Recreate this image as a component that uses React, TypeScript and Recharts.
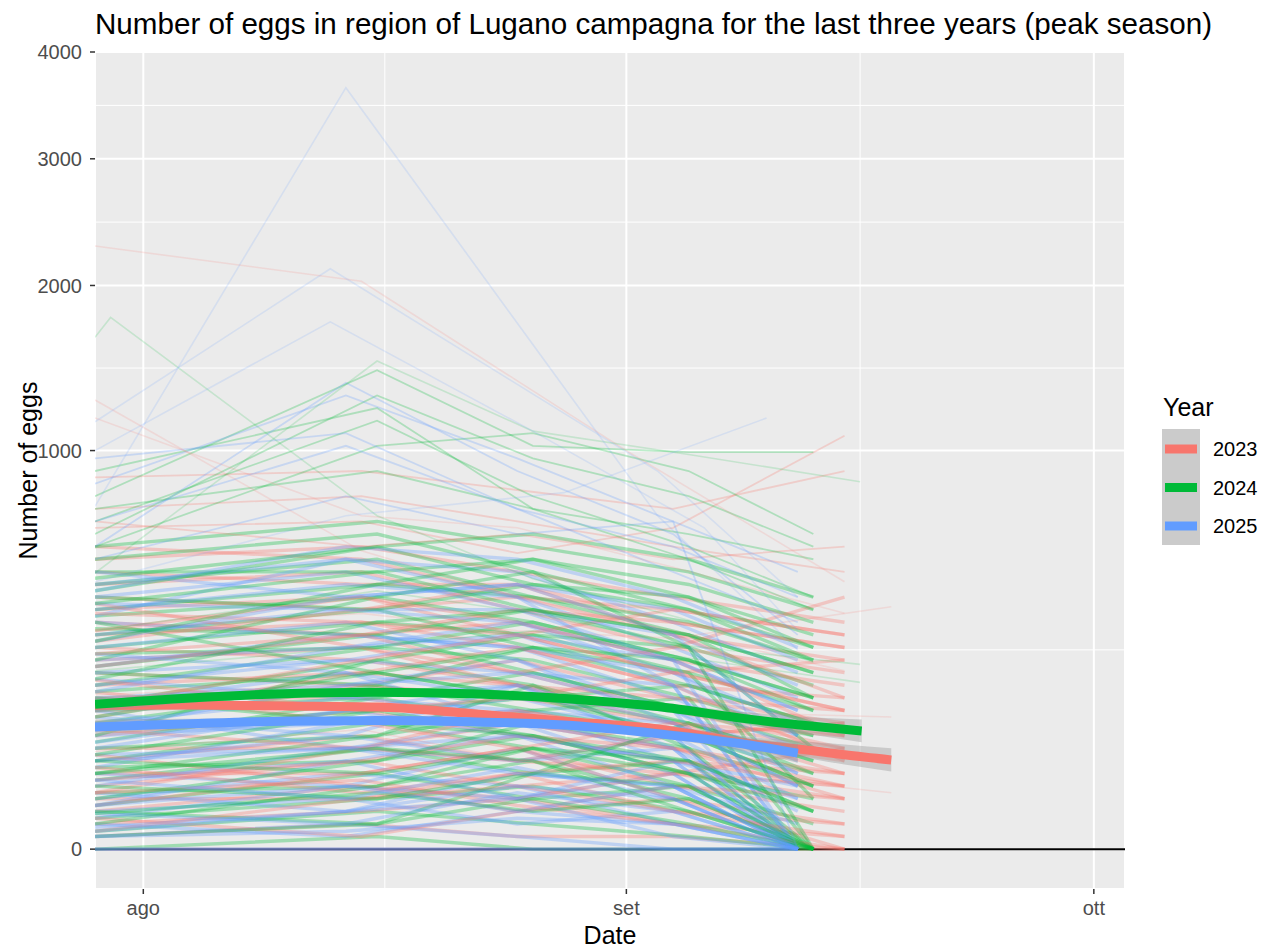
import { Area, CartesianGrid, ComposedChart, Line, XAxis, YAxis } from "recharts";

const FONT = '"Liberation Sans", Arial, sans-serif';

const years = ["2023", "2024", "2025"];
const yearColors = ["#F8766D", "#00BA38", "#619CFF"];

// x in days from 1 Aug
const xDomain = [-3.1, 63];
const xTicks = [0, 31, 61];
const xTickLabels = ["ago", "set", "ott"];
const xMinor = [15.5, 46];
const yDomain = [-10, 4000];
const yTicks = [0, 1000, 2000, 3000, 4000];
const yMinor = [250, 1457, 2475, 3482];
const zeroDays = [-3.1, 63];

// trap counts, one row per trap
const days2023 = [-3.1, 14, 24, 34, 45];
const traps2023 = [
  [0, 0, 0, 0, 0], [1, 4, 1, 1, 0], [4, 9, 16, 4, 1], [9, 25, 9, 16, 4],
  [16, 16, 36, 9, 4], [25, 49, 25, 36, 16], [36, 36, 64, 25, 9], [49, 81, 49, 36, 25],
  [64, 64, 100, 64, 16], [81, 121, 81, 49, 36], [100, 100, 121, 81, 49], [121, 169, 144, 100, 64],
  [144, 144, 100, 64, 25], [169, 196, 169, 121, 81], [196, 169, 225, 144, 100], [225, 256, 196, 121, 64],
  [256, 225, 169, 144, 121], [289, 324, 256, 169, 144], [324, 289, 324, 225, 169], [361, 400, 289, 196, 121],
  [400, 361, 400, 289, 225], [441, 484, 361, 256, 196], [484, 441, 441, 324, 256], [529, 576, 484, 400, 324],
  [576, 529, 400, 361, 289], [56, 25, 16, 36, 64], [156, 100, 64, 16, 0], [272, 361, 441, 289, 144],
  [110, 196, 256, 169, 49], [380, 256, 169, 100, 36], [20, 64, 121, 81, 100], [210, 289, 196, 256, 400],
  [30, 49, 81, 64, 36], [90, 64, 49, 81, 100], [180, 121, 144, 196, 225], [240, 289, 361, 324, 256],
  [300, 400, 324, 225, 81], [350, 324, 289, 361, 289], [12, 36, 64, 100, 81], [130, 225, 289, 196, 121],
  [2, 16, 25, 9, 1], [6, 1, 9, 25, 16], [20, 30, 12, 4, 0], [42, 20, 36, 49, 25],
];
const highTraps2023 = [
  [729, 784, 676, 576, 484], [870, 900, 812, 729, 900], [650, 676, 552, 650, 1076], [676, 576, 625, 529, 576],
];
const outliers2023 = [
  [[-3.1, 2290], [14, 2030], [31, 1000], [45, 450]],
  [[-3.1, 1270], [14, 560], [24, 400], [34, 300], [45, 200]],
  [[-3.1, 1170], [14, 700], [24, 650], [34, 500], [45, 350]],
  [[-3.1, 300], [14, 350], [24, 300], [34, 280], [48, 370]],
  [[-3.1, 150], [14, 170], [24, 140], [34, 120], [48, 110]],
  [[-3.1, 60], [14, 90], [24, 50], [34, 40], [48, 20]],
];

const days2024 = [-3.1, 15, 25, 35, 43];
const traps2024 = [
  [0, 1, 0, 0, 0], [2, 9, 4, 1, 0], [6, 16, 25, 9, 0], [12, 36, 16, 25, 4],
  [20, 25, 49, 16, 0], [30, 64, 36, 49, 9], [42, 49, 81, 36, 16], [49, 100, 64, 25, 0],
  [64, 81, 121, 81, 36], [72, 144, 100, 64, 25], [90, 121, 144, 100, 49], [100, 169, 121, 144, 81],
  [121, 144, 196, 121, 64], [132, 225, 169, 100, 36], [156, 196, 144, 169, 100], [169, 256, 225, 144, 0],
  [196, 169, 256, 196, 121], [210, 289, 196, 121, 81], [240, 256, 324, 225, 144], [256, 324, 289, 256, 169],
  [289, 361, 256, 169, 100], [306, 289, 361, 289, 196], [342, 400, 324, 225, 121], [361, 441, 400, 324, 225],
  [400, 361, 441, 361, 256], [441, 529, 400, 289, 144], [484, 484, 529, 441, 324], [529, 625, 484, 361, 225],
  [576, 676, 576, 484, 361], [144, 100, 81, 49, 0], [36, 81, 169, 64, 0], [225, 400, 484, 256, 64],
  [81, 225, 289, 196, 16], [324, 196, 144, 81, 25], [9, 4, 36, 100, 49], [420, 576, 441, 400, 289],
  [16, 49, 100, 81, 25], [56, 121, 81, 36, 0], [110, 196, 256, 225, 144], [182, 324, 361, 289, 196],
  [272, 441, 529, 400, 256], [380, 484, 361, 256, 0], [462, 576, 625, 529, 400], [4, 25, 64, 36, 9],
  [1, 4, 16, 4, 0], [8, 20, 9, 16, 0], [25, 16, 36, 25, 0], [36, 64, 49, 9, 0], [49, 36, 64, 49, 9],
];
const highTraps2024 = [
  [676, 1156, 784, 576, 400], [625, 1296, 961, 784, 576], [784, 1444, 1024, 992, 992],
  [729, 900, 729, 625, 529], [900, 1225, 729, 529, 361], [576, 1024, 1089, 900, 625],
];
const outliers2024 = [
  [[-3.1, 1650], [-2.1, 1780], [15, 700], [25, 460], [35, 330], [43, 220]],
  [[-3.1, 480], [15, 1500], [25, 1100], [35, 980], [46, 850]],
  [[-3.1, 300], [15, 420], [25, 350], [35, 260], [46, 215]],
  [[-3.1, 200], [15, 260], [25, 300], [35, 230], [46, 175]],
];

const days2025 = [-3.1, 13, 24, 34, 42];
const traps2025 = [
  [0, 0, 0, 0, 0], [0, 0, 0, 0, 0], [1, 4, 1, 0, 0], [4, 1, 9, 4, 0],
  [9, 16, 4, 9, 0], [16, 36, 25, 4, 0], [20, 9, 36, 25, 4], [30, 49, 16, 36, 0],
  [36, 25, 64, 16, 0], [49, 81, 49, 64, 9], [56, 64, 100, 36, 0], [72, 121, 81, 49, 16],
  [81, 100, 144, 81, 0], [100, 144, 121, 100, 36], [110, 81, 169, 64, 0], [132, 196, 144, 121, 49],
  [144, 169, 225, 100, 25], [169, 225, 196, 169, 81], [182, 144, 169, 81, 0], [210, 289, 256, 144, 64],
  [225, 256, 324, 196, 100], [256, 324, 225, 121, 0], [289, 361, 361, 225, 121], [324, 289, 256, 196, 81],
  [361, 441, 400, 256, 144], [400, 484, 361, 289, 169], [441, 529, 484, 324, 196], [484, 400, 441, 361, 225],
  [42, 100, 121, 49, 0], [121, 64, 49, 81, 16], [12, 49, 81, 25, 0], [240, 196, 100, 64, 0],
  [90, 169, 196, 121, 36], [6, 25, 16, 49, 25], [342, 529, 400, 169, 0],
  [25, 64, 81, 49, 0], [64, 121, 169, 100, 25], [156, 256, 289, 169, 0], [196, 225, 289, 225, 121],
  [272, 400, 441, 289, 81], [380, 361, 324, 225, 0], [420, 576, 529, 400, 256], [2, 9, 25, 16, 0],
  [3, 9, 16, 1, 0], [8, 4, 20, 9, 0], [12, 25, 9, 25, 0], [30, 16, 42, 16, 0], [49, 64, 36, 25, 0], [1, 2, 6, 4, 0],
];
const highTraps2025 = [
  [676, 1024, 729, 576, 400], [576, 1369, 900, 625, 289], [841, 1296, 961, 676, 0],
  [529, 784, 625, 676, 484], [961, 1089, 729, 484, 324],
];
const outliers2025 = [
  [[-3.1, 740], [13, 3650], [33, 700], [42, 250]],
  [[-3.1, 1150], [12, 2120], [33, 900], [42, 400]],
  [[-3.1, 1000], [12, 1750], [25, 1100], [36, 650], [42, 300]],
  [[-3.1, 450], [13, 700], [27, 800], [40, 1170]],
];

// loess fit with confidence band
const smoothDays2023 = [-3.1, 3, 9, 15, 21, 27, 33, 39, 43, 45, 48];
const smoothFit2023 = [130, 131, 129, 127, 116, 103, 91, 70, 61, 56, 50];
const smoothLo2023 = [117, 122, 122, 120, 110, 97, 85, 62, 51, 45, 38];
const smoothHi2023 = [144, 140, 136, 134, 123, 109, 98, 79, 72, 69, 64];

const smoothDays2024 = [-3.1, 3, 9, 15, 21, 27, 33, 39, 43, 46.1];
const smoothFit2024 = [132, 144, 152, 155, 152, 143, 128, 106, 95, 88];
const smoothLo2024 = [119, 135, 145, 148, 145, 136, 120, 96, 82, 72];
const smoothHi2024 = [146, 154, 160, 163, 160, 150, 136, 117, 109, 106];

const smoothDays2025 = [-3.1, 3, 9, 15, 21, 27, 33, 39, 42];
const smoothFit2025 = [94, 99, 103, 104, 102, 97, 84, 68, 58];
const smoothLo2025 = [83, 91, 97, 98, 96, 91, 78, 59, 47];
const smoothHi2025 = [106, 107, 109, 110, 108, 103, 91, 77, 70];

const toPts = (days: number[], vals: number[]) => vals.map((v, i) => ({ d: days[i], v }));
const pairPts = (pairs: number[][]) => pairs.map(([d, v]) => ({ d, v }));
const bandPts = (days: number[], fit: number[], lo: number[], hi: number[]) =>
  days.map((d, i) => ({ d, v: fit[i], band: [lo[i], hi[i]] }));

const yearDays = [days2023, days2024, days2025];
const dense = [traps2023, traps2024, traps2025].map((g, y) => g.map((r) => toPts(yearDays[y], r)));
const high = [highTraps2023, highTraps2024, highTraps2025].map((g, y) => g.map((r) => toPts(yearDays[y], r)));
const sparse = [outliers2023, outliers2024, outliers2025].map((o) => o.map(pairPts));
const smooth = [
  bandPts(smoothDays2023, smoothFit2023, smoothLo2023, smoothHi2023),
  bandPts(smoothDays2024, smoothFit2024, smoothLo2024, smoothHi2024),
  bandPts(smoothDays2025, smoothFit2025, smoothLo2025, smoothHi2025),
];

function YTitle(props: any) {
  const vb = props.viewBox || { y: 52, height: 837 };
  const x = 28;
  const y = vb.y + vb.height / 2;
  return (
    <text x={x} y={y} transform={`rotate(-90 ${x} ${y})`} textAnchor="middle" dominantBaseline="central" fontSize={25} fill="#000">
      Number of eggs
    </text>
  );
}

function XTitle(props: any) {
  const vb = props.viewBox || { x: 95, width: 1030 };
  return (
    <text x={vb.x + vb.width / 2} y={944} textAnchor="middle" fontSize={25} fill="#000">
      Date
    </text>
  );
}

function trapLine(key: string, pts: any[], color: string, width: number, opacity: number) {
  return (
    <Line key={key} data={pts} dataKey="v" stroke={color} strokeWidth={width} strokeOpacity={opacity}
      dot={false} activeDot={false} isAnimationActive={false} />
  );
}

export default function App() {
  const spaghetti: any[] = [];
  const rows = Math.max(...dense.map((g) => g.length));
  for (let i = 0; i < rows; i++) {
    dense.forEach((g, y) => {
      if (g[i]) spaghetti.push(trapLine(`d${y}-${i}`, g[i], yearColors[y], 3.4, 0.32));
    });
  }
  high.forEach((g, y) => g.forEach((pts, i) => spaghetti.push(trapLine(`h${y}-${i}`, pts, yearColors[y], 1.8, 0.26))));
  sparse.forEach((g, y) => g.forEach((pts, i) => spaghetti.push(trapLine(`s${y}-${i}`, pts, yearColors[y], 1.6, 0.16))));

  return (
    <div style={{ position: "absolute", left: 0, top: 0, width: 1269, height: 949, background: "#fff", fontFamily: FONT }}>
      <ComposedChart width={1269} height={949} margin={{ top: 52, right: 144, bottom: 0, left: 0 }}>
        <CartesianGrid fill="#EBEBEB" stroke="#FFFFFF" strokeWidth={1} horizontalValues={yMinor} verticalValues={xMinor} />
        <CartesianGrid stroke="#FFFFFF" strokeWidth={2} />
        <XAxis type="number" dataKey="d" domain={xDomain} ticks={xTicks} allowDataOverflow interval={0}
          tickFormatter={(v: number) => xTickLabels[xTicks.indexOf(v)]}
          axisLine={false} tickLine={{ stroke: "#333333", strokeWidth: 1.5 }} tickSize={5} tickMargin={7}
          tick={{ fill: "#4D4D4D", fontSize: 20 }} height={60} label={<XTitle />} />
        <YAxis type="number" scale="sqrt" domain={yDomain} ticks={yTicks} allowDataOverflow interval={0}
          axisLine={false} tickLine={{ stroke: "#333333", strokeWidth: 1.5 }} tickSize={5} tickMargin={8}
          tick={{ fill: "#4D4D4D", fontSize: 20 }} width={95} label={<YTitle />} />
        <Line data={zeroDays.map((d) => ({ d, v: 0 }))} dataKey="v" stroke="#000" strokeWidth={2}
          dot={false} activeDot={false} isAnimationActive={false} />
        {spaghetti}
        {smooth.map((pts, y) => [
          <Area key={`r${y}`} data={pts} dataKey="band" fill="#999999" fillOpacity={0.4} stroke="none"
            type="monotone" isAnimationActive={false} zIndex={410 + y * 2} />,
          <Line key={`f${y}`} data={pts} dataKey="v" stroke={yearColors[y]} strokeWidth={9} type="monotone"
            dot={false} activeDot={false} isAnimationActive={false} zIndex={411 + y * 2} />,
        ])}
      </ComposedChart>
      <svg width={1269} height={949} style={{ position: "absolute", left: 0, top: 0, pointerEvents: "none" }}>
        <text x={95} y={34} fontSize={29.6} fill="#000">
          Number of eggs in region of Lugano campagna for the last three years (peak season)
        </text>
        <text x={1163} y={416} fontSize={25} fill="#000">Year</text>
        <rect x={1162} y={429} width={38} height={116} fill="#CBCBCB" />
        {years.map((yr, i) => (
          <g key={yr}>
            <line x1={1165} x2={1197} y1={449 + i * 38.5} y2={449 + i * 38.5} stroke={yearColors[i]} strokeWidth={9} />
            <text x={1213} y={449 + i * 38.5 + 7} fontSize={20} fill="#000">{yr}</text>
          </g>
        ))}
      </svg>
    </div>
  );
}
